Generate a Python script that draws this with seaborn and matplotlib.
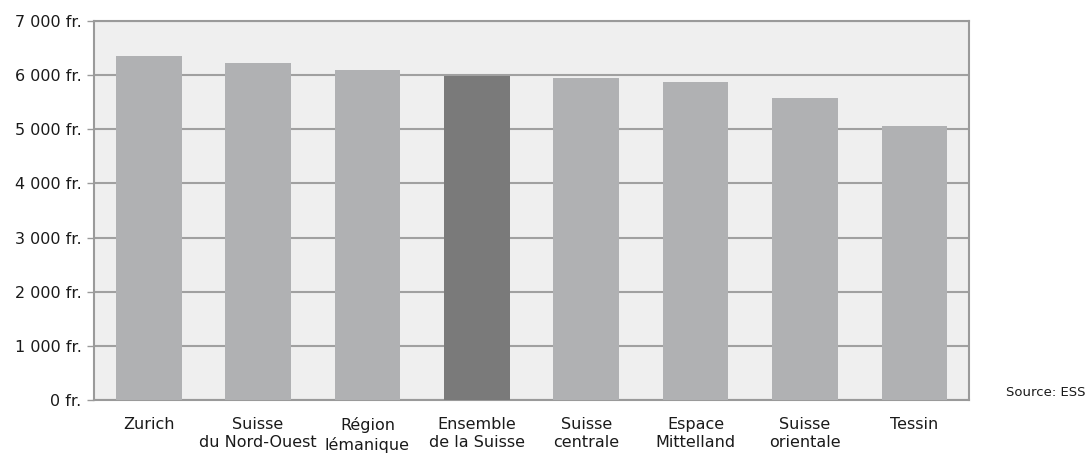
import matplotlib
matplotlib.use("Agg")
import matplotlib.pyplot as plt
import seaborn as sns
import pandas as pd
from matplotlib.ticker import FuncFormatter

categories = ["Zurich", "Suisse\ndu Nord-Ouest", "Région\nlémanique", "Ensemble\nde la Suisse",
              "Suisse\ncentrale", "Espace\nMittelland", "Suisse\norientale", "Tessin"]
values = [6350, 6220, 6090, 5975, 5940, 5880, 5570, 5060]
highlight = [False, False, False, True, False, False, False, False]
y_ticks = [0, 1000, 2000, 3000, 4000, 5000, 6000, 7000]

df = pd.DataFrame({"region": categories, "value": values,
                   "kind": ["total" if h else "region" for h in highlight]})

sns.set_theme(style="white")
plt.rcParams['font.family'] = ['DejaVu Sans']

fig = plt.figure(figsize=(10.89, 4.54), dpi=100)
ax = fig.add_axes([94/1089, 1-400/454, (969-94)/1089, (400-21)/454])
ax.set_facecolor("#efefef")

sns.barplot(data=df, x="region", y="value", hue="kind", dodge=False,
            palette={"region": "#b0b1b3", "total": "#7a7a7a"},
            width=0.6, ax=ax, legend=False, zorder=3, saturation=1,
            edgecolor="none", linewidth=0)

ax.set_ylim(0, 7000)
ax.set_yticks(y_ticks)
ax.yaxis.set_major_formatter(FuncFormatter(lambda v, p: f"{int(v):,} fr.".replace(",", " ")))
ax.grid(axis="y", color="#a0a0a0", linewidth=1.5, zorder=1)
ax.set_axisbelow(True)
for s in ax.spines.values():
    s.set_color("#9a9a9a")
    s.set_linewidth(1.5)
ax.tick_params(axis="y", length=5, color="#9a9a9a", width=1, labelsize=11.5, labelcolor="#1a1a1a", pad=4, left=True)
ax.tick_params(axis="x", length=0, labelsize=11.5, labelcolor="#1a1a1a", pad=12)
for lab in ax.get_xticklabels():
    lab.set_linespacing(1.3)
ax.set_xlabel("")
ax.set_ylabel("")
ax.set_xlim(-0.5, 7.5)

fig.text(1086/1089, 1-393/454, "Source: ESS", ha="right", va="center", fontsize=9.5, color="#1a1a1a")

fig.savefig("out.png", dpi=100)
